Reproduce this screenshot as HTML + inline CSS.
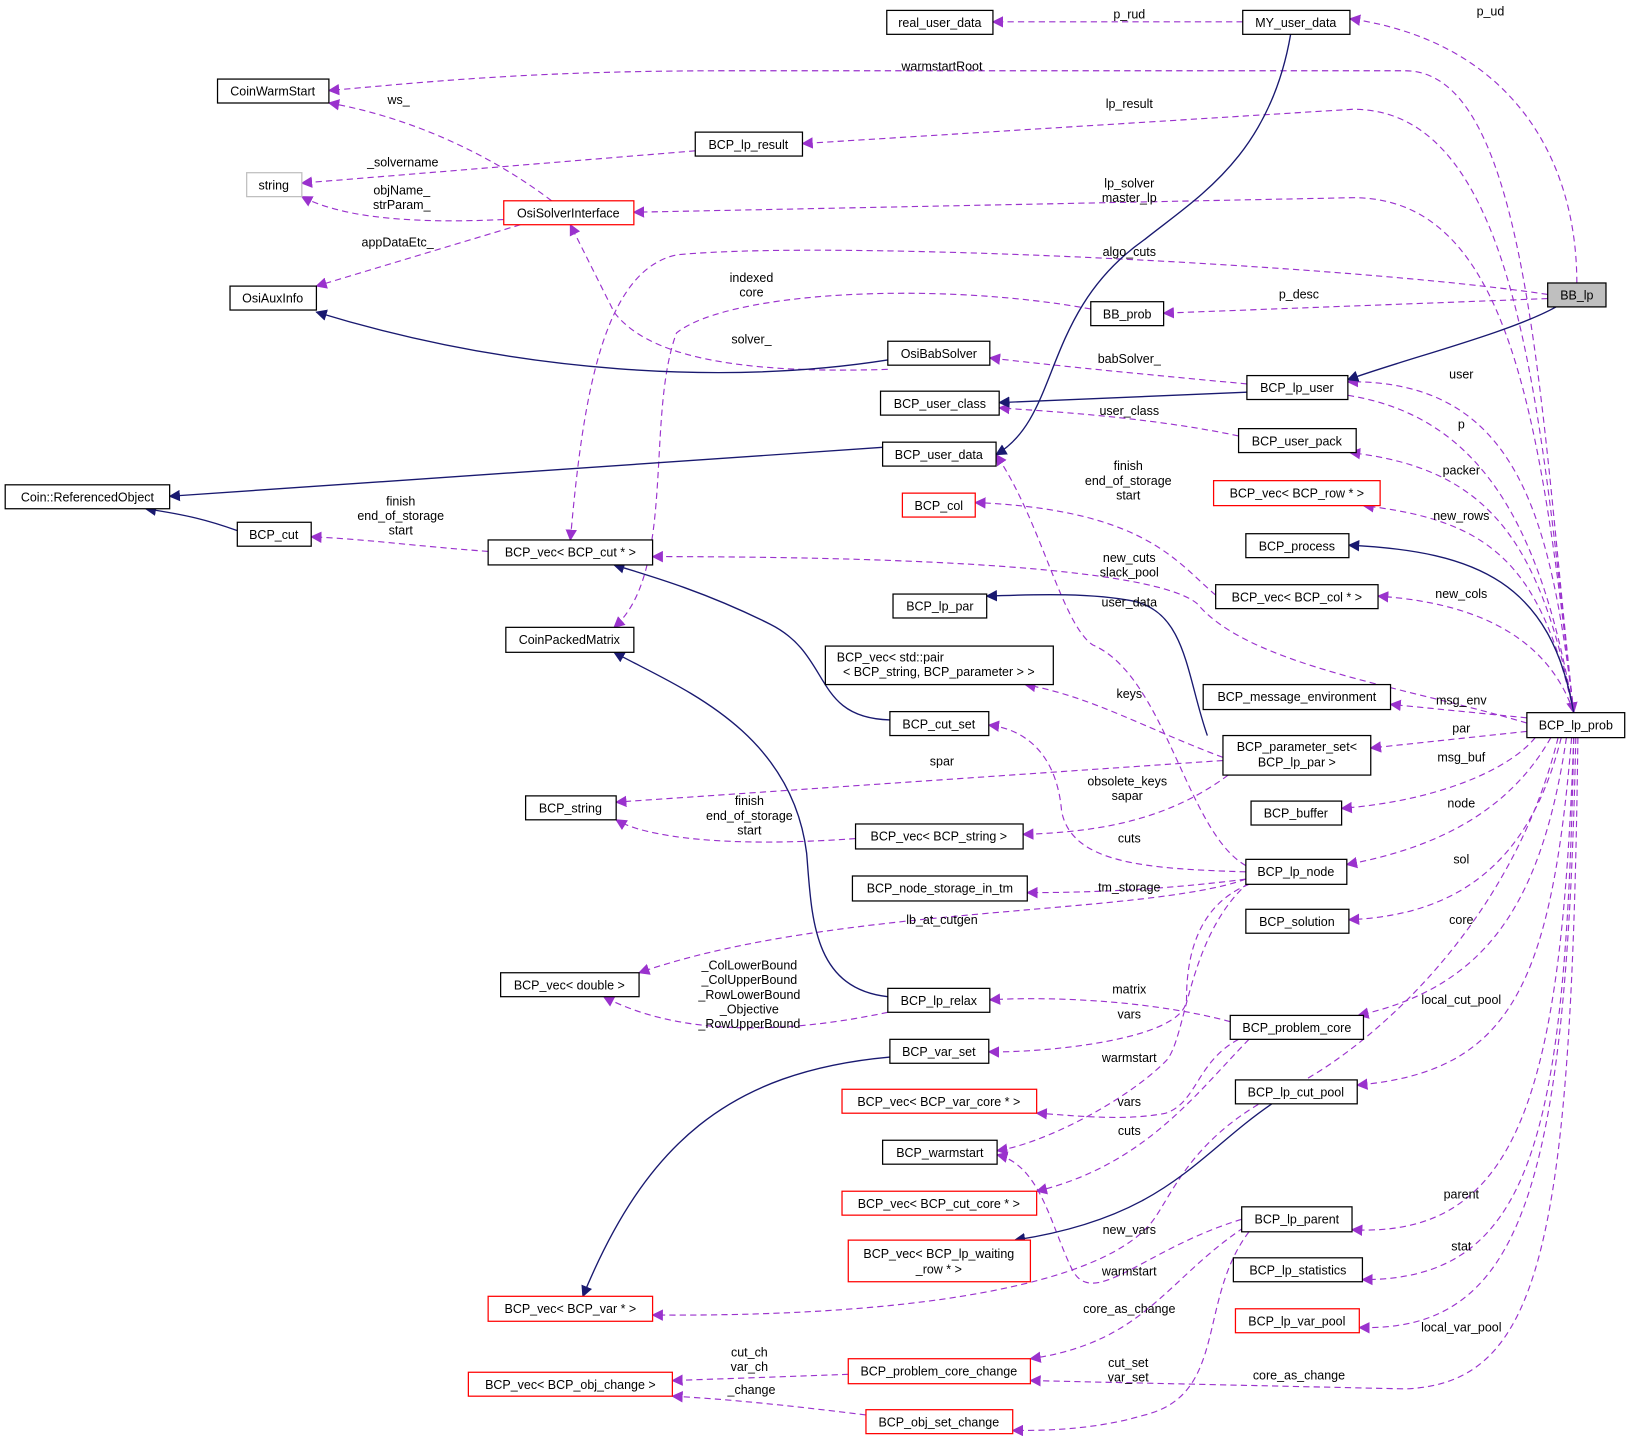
<!DOCTYPE html>
<html><head><meta charset="utf-8"><style>
html,body{margin:0;padding:0;background:#fff;}
svg{display:block;}
text{font-family:"Liberation Sans",sans-serif;font-size:12px;fill:#000;}
.n{fill:#fff;stroke:#000;stroke-width:1.2;}
.r{fill:#fff;stroke:#f00;stroke-width:1.2;}
.g{fill:#fff;stroke:#bfbfbf;stroke-width:1.2;}
.d{fill:none;stroke:#9a32cd;stroke-width:1.1;stroke-dasharray:6,4;marker-end:url(#pa);}
.s{fill:none;stroke:#191970;stroke-width:1.3;marker-end:url(#na);}
</style></head><body>
<svg width="1632" height="1443" viewBox="0 0 1568 1387" preserveAspectRatio="none" xmlns="http://www.w3.org/2000/svg">
<defs>
<marker id="pa" viewBox="0 0 10 10" refX="9" refY="5" markerWidth="11" markerHeight="11" markerUnits="userSpaceOnUse" orient="auto"><path d="M0,0 L10,5 L0,10 z" fill="#9a32cd"/></marker>
<marker id="na" viewBox="0 0 10 10" refX="9" refY="5" markerWidth="11" markerHeight="11" markerUnits="userSpaceOnUse" orient="auto"><path d="M0,0 L10,5 L0,10 z" fill="#191970"/></marker>
</defs>
<path class="d" d="M1194,21 L954,21"/>
<path class="d" d="M1515,272 C1515,150 1450,40 1297,18"/>
<path class="d" d="M1512,685 C1480,400 1470,68 1350,68 L700,68 C500,68 400,80 316,87"/>
<path class="d" d="M1512,685 C1480,400 1460,105 1300,105 L771,138"/>
<path class="d" d="M1512,685 C1480,400 1450,190 1300,190 L609,204"/>
<path class="d" d="M1487,283 C1300,255 800,230 650,245 C580,260 560,380 548,519"/>
<path class="d" d="M1487,287 L1118,301"/>
<path class="d" d="M1048,297 C900,270 700,280 650,320 C620,400 650,550 590,603"/>
<path class="d" d="M853,355 C700,360 620,340 590,300 L548,216"/>
<path class="d" d="M530,193 C460,140 380,110 316,99"/>
<path class="d" d="M668,145 L290,176"/>
<path class="d" d="M484,211 C400,215 330,210 290,189"/>
<path class="d" d="M500,216 L304,275"/>
<path class="d" d="M1198,369 C1100,360 1000,350 951,344"/>
<path class="d" d="M1512,685 C1490,500 1460,365 1295,367"/>
<path class="d" d="M1190,419 C1100,400 1000,395 960,392"/>
<path class="d" d="M1295,380 C1420,400 1480,500 1512,685"/>
<path class="d" d="M1512,685 C1480,520 1430,450 1297,435"/>
<path class="d" d="M1512,685 C1480,540 1430,500 1310,486"/>
<path class="d" d="M1512,685 C1490,620 1430,580 1324,573"/>
<path class="d" d="M1467,690 L1336,677"/>
<path class="d" d="M1467,703 L1317,719"/>
<path class="d" d="M1475,709 C1450,740 1380,770 1289,777"/>
<path class="d" d="M1490,709 C1450,780 1380,815 1294,831"/>
<path class="d" d="M1500,709 C1470,830 1400,880 1296,884"/>
<path class="d" d="M1505,709 C1480,880 1420,950 1305,976"/>
<path class="d" d="M1510,709 C1490,950 1450,1030 1304,1043"/>
<path class="d" d="M1512,709 C1500,1050 1460,1190 1299,1182"/>
<path class="d" d="M1512,709 C1505,1100 1470,1230 1309,1230"/>
<path class="d" d="M1514,709 C1505,1150 1460,1280 1306,1276"/>
<path class="d" d="M1516,709 C1510,1200 1480,1330 1350,1335 L990,1327"/>
<path class="d" d="M1467,695 C1350,660 1200,640 1150,580 C1100,540 800,535 627,535"/>
<path class="d" d="M1497,709 C1450,900 1300,1020 1230,1050 C1150,1090 1130,1140 1110,1170 C1070,1230 900,1266 627,1264"/>
<path class="d" d="M469,530 C400,525 350,518 299,516"/>
<path class="d" d="M1168,572 C1130,540 1100,490 937,483"/>
<path class="d" d="M1197,832 C1140,800 1120,650 1050,620 C1020,600 1000,500 957,437"/>
<path class="d" d="M1175,728 C1100,700 1050,670 985,658"/>
<path class="d" d="M1175,731 L592,771"/>
<path class="d" d="M1180,745 C1120,790 1050,800 983,802"/>
<path class="d" d="M822,806 C700,815 620,805 592,788"/>
<path class="d" d="M1197,838 C1100,835 1030,830 1020,780 C1015,720 980,700 950,697"/>
<path class="d" d="M1197,845 C1120,855 1050,858 987,858"/>
<path class="d" d="M1197,845 C1100,880 800,870 614,935"/>
<path class="d" d="M1182,982 C1100,960 1000,958 951,961"/>
<path class="d" d="M853,973 C750,995 650,995 580,958"/>
<path class="d" d="M1200,850 C1150,870 1140,920 1140,960 C1140,1000 1000,1012 950,1011"/>
<path class="d" d="M1200,848 C1140,900 1140,1000 1120,1020 C1080,1060 1000,1100 958,1106"/>
<path class="d" d="M1190,999 C1150,1020 1150,1060 1120,1070 C1080,1078 1030,1072 996,1070"/>
<path class="d" d="M1200,999 C1150,1050 1100,1120 996,1145"/>
<path class="d" d="M1193,1172 C1100,1200 1050,1260 1030,1220 C1010,1180 1000,1120 958,1110"/>
<path class="d" d="M1195,1180 C1120,1230 1100,1290 990,1306"/>
<path class="d" d="M1200,1184 C1150,1250 1180,1340 1100,1360 C1050,1375 1000,1375 973,1375"/>
<path class="d" d="M815,1321 L646,1327"/>
<path class="d" d="M832,1360 C750,1350 700,1345 646,1342"/>
<path class="s" d="M1495,295 C1450,320 1350,345 1295,365"/>
<path class="s" d="M1240,33 C1220,150 1150,190 1100,230 C1000,300 1020,400 957,437"/>
<path class="s" d="M853,346 C700,370 500,360 304,300"/>
<path class="s" d="M1198,377 L960,387"/>
<path class="s" d="M848,430 L163,477"/>
<path class="s" d="M228,510 C200,500 180,495 140,489"/>
<path class="s" d="M855,692 C780,690 800,630 740,600 C680,570 630,555 590,543"/>
<path class="s" d="M853,958 C780,950 780,880 775,820 C760,700 650,660 590,627"/>
<path class="s" d="M1160,707 C1140,650 1140,590 1090,578 C1050,570 1000,571 948,573"/>
<path class="s" d="M1512,685 C1490,560 1420,530 1296,524"/>
<path class="s" d="M855,1016 C700,1030 620,1100 560,1246"/>
<path class="s" d="M1222,1061 C1150,1110 1120,1170 975,1192"/>
<g>
<rect class="n" x="852" y="10" width="102" height="23"/><text x="903" y="26" text-anchor="middle">real_user_data</text>
<rect class="n" x="1194" y="10" width="103" height="23"/><text x="1245" y="26" text-anchor="middle">MY_user_data</text>
<rect class="n" x="209" y="76" width="107" height="23"/><text x="262" y="92" text-anchor="middle">CoinWarmStart</text>
<rect class="n" x="668" y="127" width="103" height="23"/><text x="719" y="143" text-anchor="middle">BCP_lp_result</text>
<rect class="g" x="237" y="166" width="53" height="23"/><text x="263" y="182" text-anchor="middle">string</text>
<rect class="r" x="484" y="193" width="125" height="23"/><text x="546" y="209" text-anchor="middle">OsiSolverInterface</text>
<rect class="n" x="221" y="275" width="83" height="23"/><text x="262" y="291" text-anchor="middle">OsiAuxInfo</text>
<rect class="n" x="1048" y="290" width="70" height="23"/><text x="1083" y="306" text-anchor="middle">BB_prob</text>
<rect x="1487" y="272" width="56" height="23" fill="#bfbfbf" stroke="#000" stroke-width="1.2"/><text x="1515" y="288" text-anchor="middle">BB_lp</text>
<rect class="n" x="853" y="328" width="98" height="23"/><text x="902" y="344" text-anchor="middle">OsiBabSolver</text>
<rect class="n" x="1198" y="361" width="97" height="23"/><text x="1246" y="377" text-anchor="middle">BCP_lp_user</text>
<rect class="n" x="846" y="376" width="114" height="23"/><text x="903" y="392" text-anchor="middle">BCP_user_class</text>
<rect class="n" x="1190" y="412" width="113" height="23"/><text x="1246" y="428" text-anchor="middle">BCP_user_pack</text>
<rect class="n" x="848" y="425" width="109" height="23"/><text x="902" y="441" text-anchor="middle">BCP_user_data</text>
<rect class="n" x="5" y="466" width="158" height="23"/><text x="84" y="482" text-anchor="middle">Coin::ReferencedObject</text>
<rect class="r" x="867" y="474" width="70" height="23"/><text x="902" y="490" text-anchor="middle">BCP_col</text>
<rect class="r" x="1166" y="462" width="160" height="24"/><text x="1246" y="478" text-anchor="middle">BCP_vec&lt; BCP_row * &gt;</text>
<rect class="n" x="228" y="502" width="71" height="23"/><text x="263" y="518" text-anchor="middle">BCP_cut</text>
<rect class="n" x="469" y="519" width="158" height="24"/><text x="548" y="535" text-anchor="middle">BCP_vec&lt; BCP_cut * &gt;</text>
<rect class="n" x="1197" y="513" width="99" height="23"/><text x="1246" y="529" text-anchor="middle">BCP_process</text>
<rect class="n" x="1168" y="562" width="156" height="23"/><text x="1246" y="578" text-anchor="middle">BCP_vec&lt; BCP_col * &gt;</text>
<rect class="n" x="858" y="571" width="90" height="23"/><text x="903" y="587" text-anchor="middle">BCP_lp_par</text>
<rect class="n" x="486" y="603" width="123" height="24"/><text x="547" y="619" text-anchor="middle">CoinPackedMatrix</text>
<rect class="n" x="793" y="621" width="219" height="37"/><text x="804" y="636">BCP_vec&lt; std::pair</text><text x="902" y="650" text-anchor="middle">&lt; BCP_string, BCP_parameter &gt; &gt;</text>
<rect class="n" x="1156" y="658" width="180" height="24"/><text x="1246" y="674" text-anchor="middle">BCP_message_environment</text>
<rect class="n" x="1467" y="685" width="94" height="24"/><text x="1514" y="701" text-anchor="middle">BCP_lp_prob</text>
<rect class="n" x="855" y="684" width="95" height="23"/><text x="902" y="700" text-anchor="middle">BCP_cut_set</text>
<rect class="n" x="1175" y="707" width="142" height="38"/><text x="1246" y="722" text-anchor="middle">BCP_parameter_set&lt;</text><text x="1246" y="737" text-anchor="middle">BCP_lp_par &gt;</text>
<rect class="n" x="505" y="765" width="87" height="23"/><text x="548" y="781" text-anchor="middle">BCP_string</text>
<rect class="n" x="822" y="792" width="161" height="24"/><text x="902" y="808" text-anchor="middle">BCP_vec&lt; BCP_string &gt;</text>
<rect class="n" x="1202" y="770" width="87" height="23"/><text x="1245" y="786" text-anchor="middle">BCP_buffer</text>
<rect class="n" x="1197" y="826" width="97" height="24"/><text x="1245" y="842" text-anchor="middle">BCP_lp_node</text>
<rect class="n" x="819" y="842" width="168" height="24"/><text x="903" y="858" text-anchor="middle">BCP_node_storage_in_tm</text>
<rect class="n" x="1197" y="874" width="99" height="23"/><text x="1246" y="890" text-anchor="middle">BCP_solution</text>
<rect class="n" x="481" y="935" width="133" height="23"/><text x="547" y="951" text-anchor="middle">BCP_vec&lt; double &gt;</text>
<rect class="n" x="853" y="950" width="98" height="23"/><text x="902" y="966" text-anchor="middle">BCP_lp_relax</text>
<rect class="n" x="1182" y="976" width="128" height="23"/><text x="1246" y="992" text-anchor="middle">BCP_problem_core</text>
<rect class="n" x="855" y="999" width="95" height="23"/><text x="902" y="1015" text-anchor="middle">BCP_var_set</text>
<rect class="n" x="1187" y="1038" width="117" height="23"/><text x="1245" y="1054" text-anchor="middle">BCP_lp_cut_pool</text>
<rect class="r" x="809" y="1047" width="187" height="23"/><text x="902" y="1063" text-anchor="middle">BCP_vec&lt; BCP_var_core * &gt;</text>
<rect class="n" x="848" y="1096" width="110" height="23"/><text x="903" y="1112" text-anchor="middle">BCP_warmstart</text>
<rect class="r" x="809" y="1145" width="187" height="23"/><text x="902" y="1161" text-anchor="middle">BCP_vec&lt; BCP_cut_core * &gt;</text>
<rect class="n" x="1193" y="1160" width="106" height="24"/><text x="1246" y="1176" text-anchor="middle">BCP_lp_parent</text>
<rect class="r" x="815" y="1192" width="175" height="40"/><text x="902" y="1209" text-anchor="middle">BCP_vec&lt; BCP_lp_waiting</text><text x="902" y="1224" text-anchor="middle">_row * &gt;</text>
<rect class="n" x="1185" y="1209" width="124" height="23"/><text x="1247" y="1225" text-anchor="middle">BCP_lp_statistics</text>
<rect class="r" x="469" y="1246" width="158" height="24"/><text x="548" y="1262" text-anchor="middle">BCP_vec&lt; BCP_var * &gt;</text>
<rect class="r" x="1187" y="1258" width="119" height="23"/><text x="1246" y="1274" text-anchor="middle">BCP_lp_var_pool</text>
<rect class="r" x="450" y="1319" width="196" height="23"/><text x="548" y="1335" text-anchor="middle">BCP_vec&lt; BCP_obj_change &gt;</text>
<rect class="r" x="815" y="1306" width="175" height="24"/><text x="902" y="1322" text-anchor="middle">BCP_problem_core_change</text>
<rect class="r" x="832" y="1355" width="141" height="23"/><text x="902" y="1371" text-anchor="middle">BCP_obj_set_change</text>
</g>
<g text-anchor="middle">
<text x="1085" y="18">p_rud</text>
<text x="1432" y="15">p_ud</text>
<text x="905" y="68">warmstartRoot</text>
<text x="1085" y="104">lp_result</text>
<text x="1085" y="180">lp_solver</text><text x="1085" y="194">master_lp</text>
<text x="1085" y="246">algo_cuts</text>
<text x="1248" y="287">p_desc</text>
<text x="722" y="271">indexed</text><text x="722" y="285">core</text>
<text x="722" y="330">solver_</text>
<text x="383" y="100">ws_</text>
<text x="387" y="160">_solvername</text>
<text x="386" y="187">objName_</text><text x="386" y="201">strParam_</text>
<text x="382" y="237">appDataEtc_</text>
<text x="1085" y="349">babSolver_</text>
<text x="1404" y="364">user</text>
<text x="1085" y="399">user_class</text>
<text x="1404" y="412">p</text>
<text x="1404" y="456">packer</text>
<text x="1404" y="500">new_rows</text>
<text x="1404" y="575">new_cols</text>
<text x="1404" y="677">msg_env</text>
<text x="1404" y="704">par</text>
<text x="1404" y="732">msg_buf</text>
<text x="1404" y="776">node</text>
<text x="1404" y="830">sol</text>
<text x="1404" y="888">core</text>
<text x="1404" y="965">local_cut_pool</text>
<text x="1404" y="1152">parent</text>
<text x="1404" y="1202">stat</text>
<text x="1404" y="1280">local_var_pool</text>
<text x="1248" y="1326">core_as_change</text>
<text x="1085" y="540">new_cuts</text><text x="1085" y="554">slack_pool</text>
<text x="1085" y="1186">new_vars</text>
<text x="385" y="486">finish</text><text x="385" y="500">end_of_storage</text><text x="385" y="514">start</text>
<text x="1084" y="452">finish</text><text x="1084" y="466">end_of_storage</text><text x="1084" y="480">start</text>
<text x="1085" y="583">user_data</text>
<text x="1085" y="671">keys</text>
<text x="905" y="736">spar</text>
<text x="1083" y="755">obsolete_keys</text><text x="1083" y="769">sapar</text>
<text x="720" y="774">finish</text><text x="720" y="788">end_of_storage</text><text x="720" y="802">start</text>
<text x="1085" y="810">cuts</text>
<text x="1085" y="857">tm_storage</text>
<text x="905" y="888">lb_at_cutgen</text>
<text x="1085" y="955">matrix</text>
<text x="720" y="932">_ColLowerBound</text><text x="720" y="946">_ColUpperBound</text><text x="720" y="960">_RowLowerBound</text><text x="720" y="974">_Objective</text><text x="720" y="988">_RowUpperBound</text>
<text x="1085" y="979">vars</text>
<text x="1085" y="1021">warmstart</text>
<text x="1085" y="1063">vars</text>
<text x="1085" y="1091">cuts</text>
<text x="1085" y="1226">warmstart</text>
<text x="1085" y="1262">core_as_change</text>
<text x="1084" y="1314">cut_set</text><text x="1084" y="1328">var_set</text>
<text x="720" y="1304">cut_ch</text><text x="720" y="1318">var_ch</text>
<text x="722" y="1340">_change</text>
</g>
</svg>
</body></html>
